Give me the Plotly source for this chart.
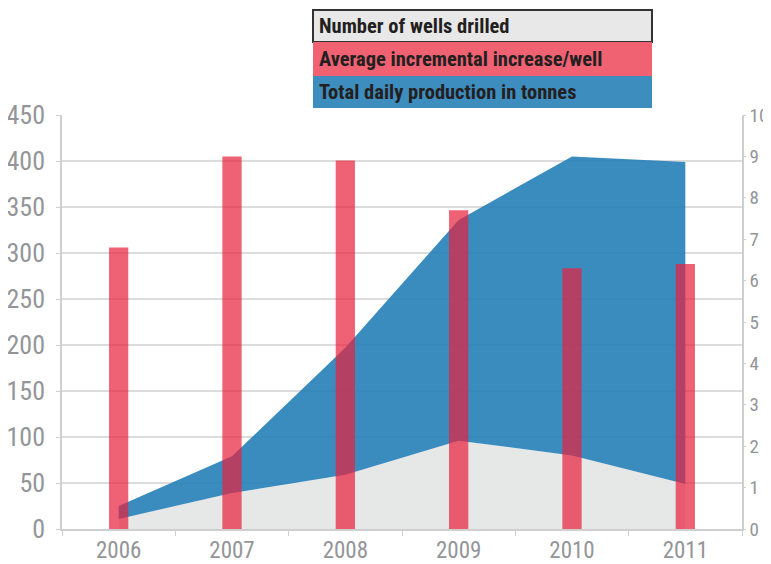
import plotly.graph_objects as go

years = ["2006", "2007", "2008", "2009", "2010", "2011"]
wells_drilled = [11, 39, 59, 96, 80, 49]
total_production = [25, 79, 197, 336, 405, 399]
avg_increase = [6.8, 9.0, 8.9, 7.7, 6.3, 6.4]

legend_labels = ["Number of wells drilled", "Average incremental increase/well", "Total daily production in tonnes"]

FONT = "Roboto Condensed, Roboto, sans-serif"
TICK_COLOR = "#939598"
GRID = "#dcdcdc"

fig = go.Figure()
fig.add_trace(go.Scatter(x=years, y=wells_drilled, mode="lines", line=dict(width=0, color="#e6e7e7"),
                         fill="tozeroy", fillcolor="#e6e7e7", yaxis="y", showlegend=False))
fig.add_trace(go.Scatter(x=years, y=total_production, mode="lines", line=dict(width=0, color="#3a8bbd"),
                         fill="tonexty", fillcolor="rgba(37,128,184,0.9)", yaxis="y", showlegend=False))
fig.add_trace(go.Bar(x=years, y=avg_increase, width=0.17, marker=dict(color="rgba(232,32,60,0.7)", line=dict(width=0)),
                     yaxis="y2", showlegend=False))

# page body adds an 8px offset to the figure; margins compensate for it
fig.update_layout(
    width=771, height=564,
    margin=dict(l=54, r=37, t=107, b=43),
    paper_bgcolor="white", plot_bgcolor="white",
    font=dict(family=FONT, color=TICK_COLOR),
    xaxis=dict(type="category", range=[-0.5, 5.5], tickson="boundaries", ticks="outside", ticklen=5,
               tickcolor="#cfcfcf", showline=True, linecolor="#cfcfcf", linewidth=1.5, showgrid=False,
               tickfont=dict(size=23, color=TICK_COLOR, family=FONT), automargin=False, fixedrange=True),
    yaxis=dict(range=[0, 450], dtick=50, ticks="outside", ticklen=4, tickcolor="#cfcfcf",
               showline=True, linecolor="#cfcfcf", linewidth=1.5, showgrid=True, gridcolor=GRID, gridwidth=1.5,
               zeroline=False, tickfont=dict(size=26, color=TICK_COLOR, family=FONT), ticklabelstandoff=6,
               automargin=False),
    yaxis2=dict(range=[0, 10], dtick=1, overlaying="y", side="right", ticks="outside", ticklen=2,
                tickcolor="#cfcfcf", showline=True, linecolor="#cfcfcf", linewidth=1.5, showgrid=False,
                zeroline=False, tickfont=dict(size=19, color=TICK_COLOR, family=FONT), automargin=False),
)

# legend boxes (paper coords computed from the plot area in window pixels)
def px_x(px):
    return (px - 62) / 680

def px_y(py):
    return (529 - py) / 414

box_fills = ["#e8e8e8", "#f06272", "#3d8dbf"]
box_tops = [10, 42, 76]
box_bottoms = [42, 76, 108]
for i, lab in enumerate(legend_labels):
    fig.add_shape(type="rect", xref="paper", yref="paper", x0=px_x(313), x1=px_x(652),
                  y0=px_y(box_bottoms[i]), y1=px_y(box_tops[i]), fillcolor=box_fills[i],
                  line=dict(width=2 if i == 0 else 0, color="#333333"), layer="above")
    fig.add_annotation(xref="paper", yref="paper", x=px_x(317), y=px_y((box_tops[i] + box_bottoms[i]) / 2),
                       xanchor="left", yanchor="middle", text=lab, showarrow=False,
                       font=dict(family=FONT, size=20.5, color="#231f20", weight="bold"))

fig.write_html("out.html")
